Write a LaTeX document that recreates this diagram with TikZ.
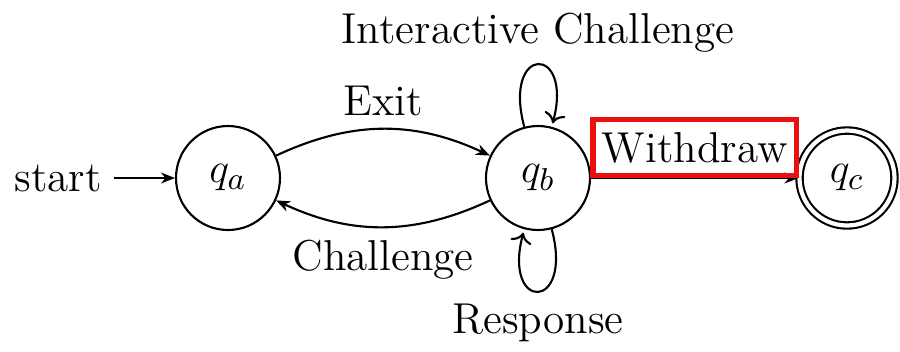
\documentclass[tikz,border=0pt]{standalone}
\usepackage{tikz}
\usetikzlibrary{arrows.meta,positioning}
\definecolor{boxred}{RGB}{232,16,16}

\begin{document}
\begin{tikzpicture}[
  font=\fontsize{12.3}{14.8}\selectfont,
  line width=0.6pt,
  state/.style={draw,circle,minimum size=1.04cm,inner sep=0pt},
  accept/.style={state,double,double distance=1.2pt,minimum size=0.95cm},
  trans/.style={-{Stealth[length=1.4mm,width=1.1mm]}},
  hilite/.style={draw=boxred,line width=1.5pt,inner xsep=2.5pt,inner ysep=3.5pt}
]
\useasboundingbox (0,0) rectangle (9,3.51);
\node (start) at (0.58,1.73) {start};
\node[state] (qa) at (2.28,1.73) {$q_a$};
\node[state] (qb) at (5.38,1.73) {$q_b$};
\node[accept] (qc) at (8.47,1.73) {$q_c$};
\draw[trans] (start) -- (qa);
\draw[trans] (qa) to[bend left=25] node[above] {Exit} (qb);
\draw[trans] (qb) to[bend left=25] node[below] {Challenge} (qa);
\draw[trans] (qb) -- node[above,hilite] {Withdraw} (qc);
\draw[trans] (qb) edge[loop above] node[above] {Interactive Challenge} ();
\draw[trans] (qb) edge[loop below] node[below] {Response} ();
\end{tikzpicture}
\end{document}
